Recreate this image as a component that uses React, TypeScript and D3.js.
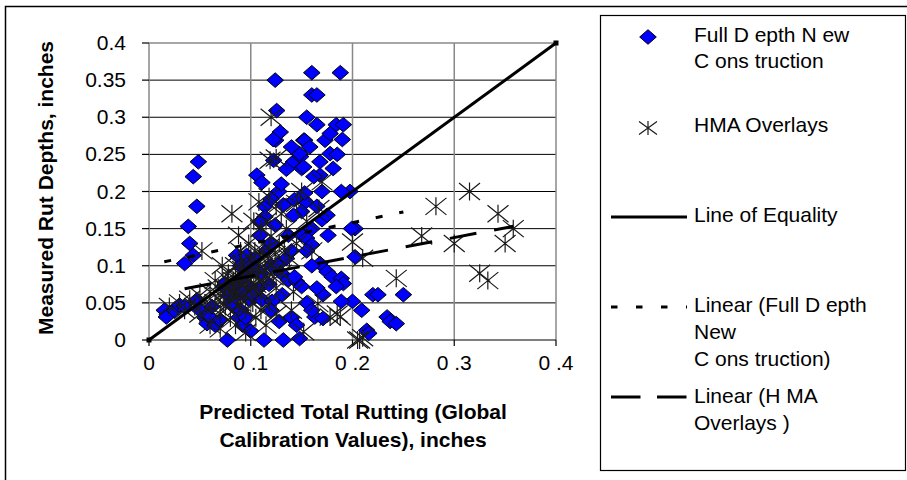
import React from "react";
import * as d3 from "d3";

// Full-depth new construction: [predicted, measured] rut depth (in)
const fullDepthPoints: [number, number][] = [
  [0.015, 0.04], [0.017, 0.031], [0.025, 0.04], [0.03, 0.047], [0.035, 0.045], [0.047, 0.054],
  [0.05, 0.04], [0.055, 0.03], [0.057, 0.022], [0.06, 0.031], [0.062, 0.045], [0.065, 0.02],
  [0.07, 0.027], [0.073, 0.072], [0.075, 0.076], [0.077, 0.0], [0.078, 0.06], [0.08, 0.05],
  [0.083, 0.045], [0.085, 0.058], [0.088, 0.03], [0.09, 0.04], [0.092, 0.02], [0.095, 0.03],
  [0.1, 0.012],
  [0.035, 0.103], [0.0435, 0.114], [0.04, 0.13], [0.0386, 0.153], [0.047, 0.18], [0.0435, 0.22],
  [0.0485, 0.24],
  [0.086, 0.114], [0.096, 0.114], [0.09, 0.1], [0.095, 0.09], [0.09, 0.08], [0.085, 0.07],
  [0.1, 0.07], [0.092, 0.065], [0.098, 0.055], [0.1, 0.1], [0.105, 0.11], [0.11, 0.09],
  [0.102, 0.06], [0.108, 0.07], [0.118, 0.075], [0.111, 0.054], [0.121, 0.052], [0.131, 0.061],
  [0.12, 0.04], [0.128, 0.025], [0.14, 0.03], [0.145, 0.02],
  [0.113, 0.0], [0.132, 0.0], [0.148, 0.002],
  [0.115, 0.12], [0.12, 0.13], [0.12, 0.1], [0.128, 0.103], [0.13, 0.09], [0.137, 0.081],
  [0.145, 0.079], [0.135, 0.11], [0.14, 0.12], [0.143, 0.085], [0.15, 0.072],
  [0.106, 0.222], [0.111, 0.212], [0.1275, 0.2], [0.132, 0.182], [0.114, 0.18], [0.154, 0.186],
  [0.15, 0.173], [0.142, 0.168], [0.114, 0.166], [0.109, 0.159], [0.124, 0.155], [0.109, 0.141],
  [0.137, 0.141], [0.15, 0.141],
  [0.1245, 0.269], [0.152, 0.269], [0.1225, 0.242], [0.142, 0.24], [0.149, 0.247], [0.15, 0.231],
  [0.124, 0.35], [0.1255, 0.309], [0.129, 0.28], [0.122, 0.27],
  [0.16, 0.36], [0.188, 0.36], [0.16, 0.33], [0.165, 0.33], [0.155, 0.3],
  [0.1975, 0.2], [0.189, 0.2], [0.2025, 0.15], [0.199, 0.15], [0.2025, 0.112], [0.176, 0.141],
  [0.181, 0.231], [0.168, 0.24], [0.178, 0.251], [0.153, 0.269], [0.184, 0.29], [0.191, 0.29],
  [0.173, 0.269], [0.178, 0.278], [0.148, 0.251], [0.152, 0.233], [0.168, 0.222], [0.153, 0.198],
  [0.143, 0.189], [0.17, 0.162], [0.175, 0.168], [0.155, 0.137], [0.16, 0.128], [0.168, 0.103],
  [0.175, 0.092], [0.18, 0.085], [0.189, 0.083], [0.191, 0.076], [0.184, 0.072], [0.171, 0.061],
  [0.2, 0.052], [0.209, 0.04], [0.189, 0.052], [0.22, 0.061], [0.225, 0.061], [0.25, 0.061],
  [0.234, 0.031], [0.237, 0.025], [0.243, 0.022], [0.163, 0.031], [0.171, 0.029], [0.214, 0.013],
  [0.216, 0.009],
  [0.158, 0.26], [0.162, 0.22], [0.165, 0.18], [0.16, 0.15], [0.155, 0.12], [0.16, 0.1],
  [0.165, 0.07], [0.155, 0.05], [0.16, 0.04], [0.17, 0.2], [0.185, 0.25], [0.19, 0.27],
  [0.165, 0.29], [0.14, 0.26], [0.135, 0.23], [0.13, 0.21], [0.12, 0.19],
];

// HMA overlays: [predicted, measured] rut depth (in)
const overlayPoints: [number, number][] = [
  [0.02, 0.045], [0.03, 0.05], [0.035, 0.04], [0.04, 0.055], [0.045, 0.045], [0.05, 0.035],
  [0.05, 0.06], [0.055, 0.05], [0.06, 0.04], [0.06, 0.065], [0.065, 0.05], [0.065, 0.08],
  [0.07, 0.06], [0.07, 0.035], [0.072, 0.1], [0.075, 0.045], [0.075, 0.07], [0.078, 0.09],
  [0.08, 0.055], [0.08, 0.03], [0.082, 0.075], [0.085, 0.065], [0.085, 0.1], [0.088, 0.085],
  [0.09, 0.05], [0.09, 0.075], [0.092, 0.095], [0.095, 0.06], [0.095, 0.04], [0.097, 0.08],
  [0.1, 0.07], [0.1, 0.09], [0.1, 0.11], [0.102, 0.05], [0.105, 0.075], [0.105, 0.03],
  [0.108, 0.095], [0.11, 0.065], [0.112, 0.12], [0.115, 0.085], [0.118, 0.05], [0.12, 0.1],
  [0.125, 0.07], [0.128, 0.13], [0.13, 0.09], [0.135, 0.15], [0.138, 0.11], [0.14, 0.04],
  [0.142, 0.065], [0.145, 0.13], [0.06, 0.02], [0.085, 0.02], [0.095, 0.01], [0.07, 0.015],
  [0.11, 0.15], [0.115, 0.16], [0.12, 0.14], [0.09, 0.12], [0.098, 0.13], [0.13, 0.17],
  [0.125, 0.18], [0.103, 0.16], [0.108, 0.186], [0.119, 0.242], [0.125, 0.245], [0.12, 0.3],
  [0.118, 0.193], [0.0815, 0.17], [0.088, 0.141], [0.052, 0.12], [0.155, 0.16], [0.16, 0.12],
  [0.15, 0.2], [0.145, 0.184], [0.167, 0.177], [0.17, 0.213], [0.125, 0.035], [0.115, 0.02],
  [0.152, 0.011], [0.166, 0.049], [0.178, 0.031], [0.188, 0.031], [0.185, 0.035], [0.2, 0.132],
  [0.21, 0.11], [0.205, 0.0], [0.21, 0.003], [0.207, 0.0], [0.243, 0.083], [0.268, 0.14],
  [0.282, 0.18], [0.3, 0.13], [0.315, 0.2], [0.325, 0.09], [0.333, 0.08], [0.343, 0.17],
  [0.35, 0.13], [0.358, 0.15],
  [0.083, 0.08], [0.087, 0.06], [0.093, 0.085], [0.096, 0.07], [0.099, 0.1], [0.103, 0.085],
  [0.106, 0.065], [0.109, 0.105], [0.112, 0.08], [0.114, 0.095], [0.117, 0.11], [0.122, 0.085],
  [0.124, 0.115], [0.127, 0.095], [0.079, 0.065], [0.073, 0.05], [0.068, 0.07], [0.091, 0.105],
  [0.104, 0.12], [0.118, 0.125], [0.133, 0.12], [0.11, 0.04], [0.088, 0.045], [0.077, 0.082],
];

// Line of equality endpoints
const equalityLine: [number, number][] = [[0, 0], [0.4, 0.4]];

// Linear trends: [intercept, slope, xStart, xEnd]
const fullDepthTrend = [0.101, 0.286, 0.015, 0.25];
const overlayTrend = [0.06, 0.26, 0.035, 0.358];

const yTicks = [0, 0.05, 0.1, 0.15, 0.2, 0.25, 0.3, 0.35, 0.4];
const yTickLabels = ["0", "0.05", "0.1", "0.15", "0.2", "0.25", "0.3", "0.35", "0.4"];
const xTicks = [0, 0.1, 0.2, 0.3, 0.4];
const xTickLabels = ["0", "0 .1", "0 .2", "0 .3", "0 .4"];

const legendLabels = [
  ["Full D epth N ew", "C ons truction"],
  ["HMA Overlays"],
  ["Line of Equality"],
  ["Linear (Full D epth", "New", "C ons truction)"],
  ["Linear (H MA", "Overlays )"],
];

const FONT = "'Liberation Sans', Arial, Helvetica, sans-serif";

const x = d3.scaleLinear().domain([0, 0.4]).range([149, 556]);
const y = d3.scaleLinear().domain([0, 0.4]).range([340, 43]);

const diamond = (cx: number, cy: number, w = 8.3, h = 7.3) =>
  `M${cx},${cy - h}L${cx + w},${cy}L${cx},${cy + h}L${cx - w},${cy}Z`;

const asterisk = (cx: number, cy: number, w = 10.5, h = 8.5, v = 9) =>
  `M${cx - w},${cy - h}L${cx + w},${cy + h}M${cx - w},${cy + h}L${cx + w},${cy - h}M${cx},${cy - v}L${cx},${cy + v}`;

const line = d3
  .line<[number, number]>()
  .x((d) => x(d[0]))
  .y((d) => y(d[1]));

const trendPoints = (t: number[]): [number, number][] => [
  [t[2], t[0] + t[1] * t[2]],
  [t[3], t[0] + t[1] * t[3]],
];

export default function App() {
  const legendX = 694;
  const symX = 648;
  return (
    <svg
      width={907}
      height={480}
      style={{ position: "absolute", left: 0, top: 0, background: "#fff" }}
      fontFamily={FONT}
    >
      <rect x={0} y={0} width={907} height={480} fill="#fff" />
      {/* outer frame */}
      <rect x={5.5} y={6.5} width={910} height={480} fill="none" stroke="#000" strokeWidth={1.5} />

      {/* horizontal gridlines */}
      {yTicks.slice(1, -1).map((t) => (
        <line key={"hg" + t} x1={x(0)} x2={x(0.4)} y1={y(t)} y2={y(t)} stroke="#000" strokeWidth={1} />
      ))}
      <line x1={x(0)} x2={x(0.4)} y1={y(0.4)} y2={y(0.4)} stroke="#888" strokeWidth={1.5} />
      {/* vertical gridlines */}
      {xTicks.map((t) => (
        <line key={"vg" + t} x1={x(t)} x2={x(t)} y1={y(0.4)} y2={y(0)} stroke="#888" strokeWidth={1.5} />
      ))}
      {/* axes */}
      <line x1={x(0)} x2={x(0.4)} y1={y(0)} y2={y(0)} stroke="#000" strokeWidth={1.2} />
      {xTicks.map((t) => (
        <line key={"xt" + t} x1={x(t)} x2={x(t)} y1={y(0)} y2={y(0) + 6} stroke="#000" strokeWidth={1.2} />
      ))}
      {yTicks.map((t) => (
        <line key={"yt" + t} x1={x(0) - 7} x2={x(0)} y1={y(t)} y2={y(t)} stroke="#000" strokeWidth={1.2} />
      ))}

      {/* tick labels */}
      {yTicks.map((t, i) => (
        <text key={"yl" + t} x={126} y={y(t) + 7} fontSize={21} textAnchor="end" fill="#000">
          {yTickLabels[i]}
        </text>
      ))}
      {xTicks.map((t, i) => (
        <text key={"xl" + t} x={x(t)} y={370} fontSize={21} textAnchor="middle" fill="#000">
          {xTickLabels[i]}
        </text>
      ))}

      {/* axis titles */}
      <text
        transform="translate(53,188) rotate(-90)"
        fontSize={21}
        fontWeight="bold"
        textAnchor="middle"
        fill="#000"
      >
        Measured Rut Depths, inches
      </text>
      <text x={353} y={419} fontSize={21} fontWeight="bold" textAnchor="middle" fill="#000">
        Predicted Total Rutting (Global
      </text>
      <text x={353} y={447} fontSize={21} fontWeight="bold" textAnchor="middle" fill="#000">
        Calibration Values), inches
      </text>

      {/* full-depth markers */}
      {fullDepthPoints.map((d, i) => (
        <path key={"fd" + i} d={diamond(x(d[0]), y(d[1]))} fill="#0000ff" stroke="#000" strokeWidth={1} />
      ))}
      {/* overlay markers */}
      {overlayPoints.map((d, i) => (
        <path key={"ov" + i} d={asterisk(x(d[0]), y(d[1]))} fill="none" stroke="#1a1a1a" strokeWidth={1.2} />
      ))}

      {/* line of equality */}
      <path d={line(equalityLine) ?? ""} stroke="#000" strokeWidth={3} fill="none" />
      {equalityLine.map((d, i) => (
        <rect key={"eq" + i} x={x(d[0]) - 2.5} y={y(d[1]) - 2.5} width={5} height={5} fill="#000" />
      ))}
      {/* trend lines */}
      <path
        d={line(trendPoints(fullDepthTrend)) ?? ""}
        stroke="#000"
        strokeWidth={3}
        strokeDasharray="7 17"
        fill="none"
      />
      <path
        d={line(trendPoints(overlayTrend)) ?? ""}
        stroke="#000"
        strokeWidth={3}
        strokeDasharray="27 18"
        fill="none"
      />

      {/* legend */}
      <rect x={600.5} y={15.5} width={305} height={455} fill="#fff" stroke="#000" strokeWidth={1.2} />
      <path d={diamond(symX, 37)} fill="#0000ff" stroke="#000" strokeWidth={1} />
      <path d={asterisk(symX, 128, 9, 6.5, 7)} fill="none" stroke="#1a1a1a" strokeWidth={1.2} />
      <line x1={611} x2={687} y1={217} y2={217} stroke="#000" strokeWidth={3} />
      <line x1={611} x2={687} y1={307} y2={307} stroke="#000" strokeWidth={3} strokeDasharray="6.5 18.5" />
      <line x1={611} x2={687} y1={397} y2={397} stroke="#000" strokeWidth={3} strokeDasharray="29.5 16.5" />
      {[
        [42, 68],
        [132],
        [222],
        [312, 339, 366],
        [403, 430],
      ].map((ys, gi) =>
        ys.map((yy, li) => (
          <text key={`lg${gi}-${li}`} x={legendX} y={yy} fontSize={21} fill="#000">
            {legendLabels[gi][li]}
          </text>
        ))
      )}
    </svg>
  );
}
